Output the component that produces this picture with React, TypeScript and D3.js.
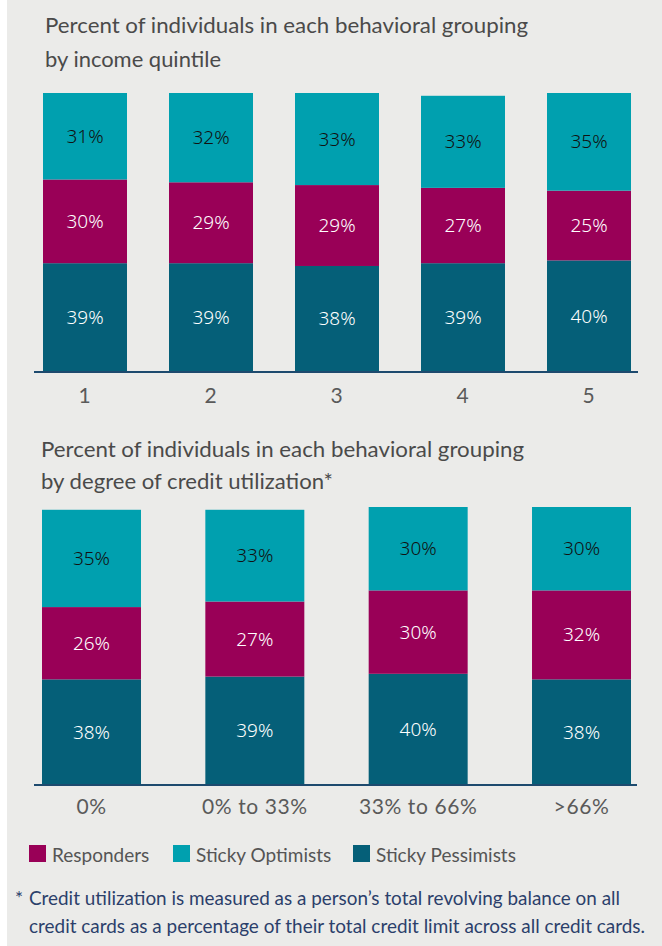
import React from "react";
import * as d3 from "d3";

const incomeCats = ["1", "2", "3", "4", "5"];
const incomePessimists = [39, 39, 38, 39, 40];
const incomeResponders = [30, 29, 29, 27, 25];
const incomeOptimists = [31, 32, 33, 33, 35];

const utilCats = ["0%", "0% to 33%", "33% to 66%", ">66%"];
const utilPessimists = [38, 39, 40, 38];
const utilResponders = [26, 27, 30, 32];
const utilOptimists = [35, 33, 30, 30];

const seriesKeys = ["Sticky Pessimists", "Responders", "Sticky Optimists"];
const legendKeys = ["Responders", "Sticky Optimists", "Sticky Pessimists"];

const titleTop = ["Percent of individuals in each behavioral grouping", "by income quintile"];
const titleBottom = ["Percent of individuals in each behavioral grouping", "by degree of credit utilization*"];
const footnote = [
  "Credit utilization is measured as a person\u2019s total revolving balance on all",
  "credit cards as a percentage of their total credit limit across all credit cards.",
];

const COLORS: Record<string, string> = {
  "Sticky Pessimists": "#055f78",
  Responders: "#990057",
  "Sticky Optimists": "#00a0af",
};
const LABEL_COLORS: Record<string, string> = {
  "Sticky Pessimists": "#ffffff",
  Responders: "#ffffff",
  "Sticky Optimists": "#111111",
};

const W = 662;
const H = 946;
const FONT = "Lato, 'Open Sans', sans-serif";
const VAL_FONT = "'Noto Sans', 'DejaVu Sans', sans-serif";

type Row = { cat: string; [k: string]: any };

function buildRows(cats: string[], p: number[], r: number[], o: number[]): Row[] {
  return cats.map((c, i) => ({
    cat: c,
    "Sticky Pessimists": p[i],
    Responders: r[i],
    "Sticky Optimists": o[i],
  }));
}

function Panel(props: {
  rows: Row[];
  cats: string[];
  x0: number;
  x1: number;
  padInner: number;
  yBase: number;
  yTop: number;
  axisX0: number;
  axisX1: number;
  tickBaseline: number;
  title: string[];
  titleX: number;
  titleY: number[];
  titleLen: number[];
}) {
  const { rows, cats } = props;
  const x = d3.scaleBand<string>().domain(cats).range([props.x0, props.x1]).paddingInner(props.padInner).paddingOuter(0);
  const y = d3.scaleLinear().domain([0, 100]).range([props.yBase, props.yTop]);
  const stacked = d3.stack<Row>().keys(seriesKeys)(rows);
  return (
    <g>
      {props.title.map((t, i) => (
        <text
          key={i}
          x={props.titleX}
          y={props.titleY[i]}
          fontFamily={FONT}
          fontSize={21}
          fill="#4a4a4a"
          textLength={props.titleLen[i]}
          lengthAdjust="spacingAndGlyphs"
        >
          {t}
        </text>
      ))}
      {stacked.map((s) => (
        <g key={s.key}>
          {s.map((d, i) => (
            <rect
              key={i}
              x={x(d.data.cat)}
              width={x.bandwidth()}
              y={y(d[1])}
              height={y(d[0]) - y(d[1])}
              fill={COLORS[s.key]}
            />
          ))}
          {s.map((d, i) => (
            <text
              key={"t" + i}
              x={(x(d.data.cat) as number) + x.bandwidth() / 2}
              y={(y(d[0]) + y(d[1])) / 2 + 6.5}
              textAnchor="middle"
              fontFamily={VAL_FONT}
              fontSize={19}
              fontWeight={300}
              fill={LABEL_COLORS[s.key]}
            >
              {d.data[s.key]}%
            </text>
          ))}
        </g>
      ))}
      <line x1={props.axisX0} x2={props.axisX1} y1={props.yBase} y2={props.yBase} stroke="#1d4a6e" strokeWidth={2} />
      {cats.map((c) => (
        <text
          key={c}
          x={(x(c) as number) + x.bandwidth() / 2}
          y={props.tickBaseline}
          textAnchor="middle"
          fontFamily={FONT}
          fontSize={21}
          letterSpacing={0.6}
          fill="#5a5a5a"
        >
          {c}
        </text>
      ))}
    </g>
  );
}

export default function App() {
  const incomeRows = buildRows(incomeCats, incomePessimists, incomeResponders, incomeOptimists);
  const utilRows = buildRows(utilCats, utilPessimists, utilResponders, utilOptimists);
  const legendX = [29, 173, 353];
  return (
    <svg width={W} height={H} style={{ position: "absolute", left: 0, top: 0 }}>
      <rect x={0} y={0} width={W} height={H} fill="#ffffff" />
      <rect x={7} y={0} width={W - 7} height={H} fill="#ebebe9" />
      <Panel
        rows={incomeRows}
        cats={incomeCats}
        x0={43}
        x1={631}
        padInner={1 / 3}
        yBase={372}
        yTop={93}
        axisX0={34}
        axisX1={638}
        tickBaseline={403}
        title={titleTop}
        titleX={45}
        titleY={[33, 67]}
        titleLen={[483, 176]}
      />
      <Panel
        rows={utilRows}
        cats={utilCats}
        x0={42}
        x1={631}
        padInner={0.394}
        yBase={785}
        yTop={507}
        axisX0={34}
        axisX1={637}
        tickBaseline={814}
        title={titleBottom}
        titleX={41}
        titleY={[457, 489]}
        titleLen={[483, 292]}
      />
      {legendKeys.map((k, i) => (
        <g key={k}>
          <rect x={legendX[i]} y={845} width={17} height={17} fill={COLORS[k]} />
          <text x={legendX[i] + 23} y={862} fontFamily={FONT} fontSize={19} fill="#555555">
            {k}
          </text>
        </g>
      ))}
      <text x={15} y={905} fontFamily={FONT} fontSize={19} fill="#2b3f6b">
        *
      </text>
      <text x={29} y={905} fontFamily={FONT} fontSize={19} fill="#2b3f6b" textLength={591} lengthAdjust="spacingAndGlyphs">
        {footnote[0]}
      </text>
      <text x={29} y={933} fontFamily={FONT} fontSize={19} fill="#2b3f6b" textLength={616} lengthAdjust="spacingAndGlyphs">
        {footnote[1]}
      </text>
    </svg>
  );
}
